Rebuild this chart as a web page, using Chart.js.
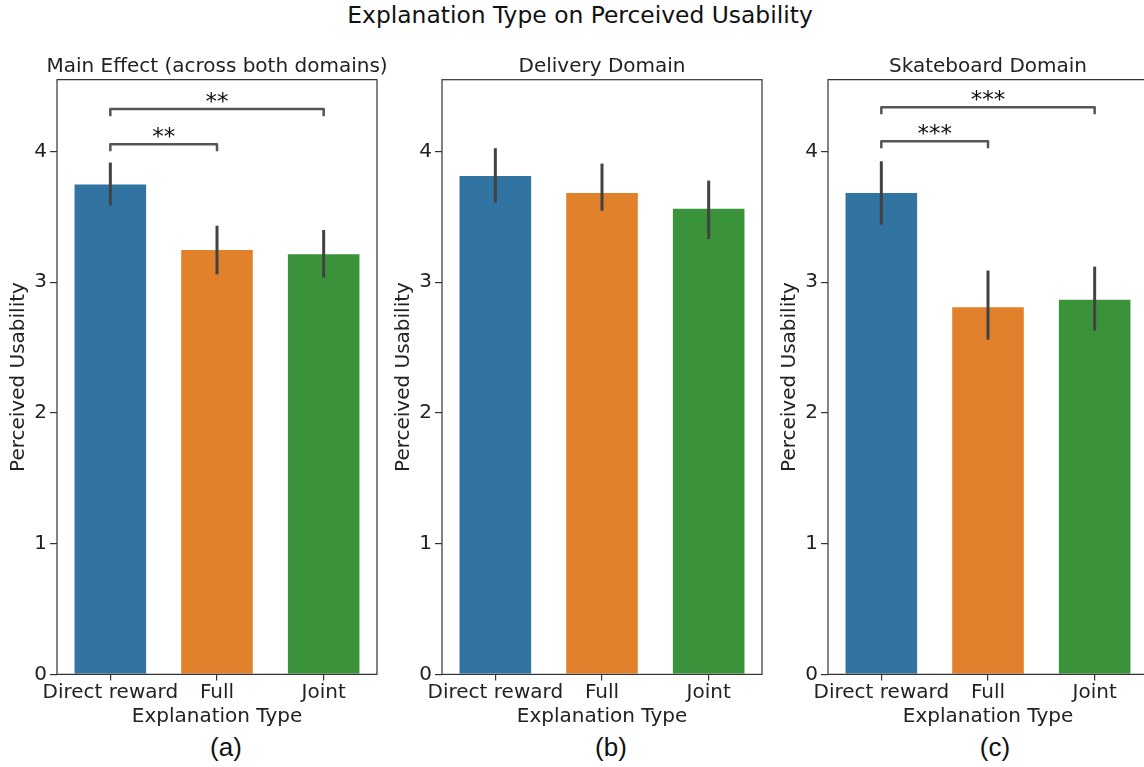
<!DOCTYPE html>
<html>
<head>
<meta charset="utf-8">
<script src="https://cdn.jsdelivr.net/npm/chart.js"></script>
<style>
body { margin: 0; background: #fff; }
#fig { position: relative; width: 1144px; height: 767px; overflow: hidden; background: #fff; font-family: "DejaVu Sans", sans-serif; }
.panel { position: absolute; top: 50px; width: 400px; height: 680px; }
#suptitle { position: absolute; left: 0; width: 1160px; top: 4px; text-align: center; font-size: 23.4px; line-height: 23px; color: #111; }
.sub { position: absolute; top: 734px; width: 100px; text-align: center; font-family: "Liberation Sans", Arial, sans-serif; font-size: 26px; line-height: 26px; color: #111; }
</style>
</head>
<body>
<div id="fig">
  <div id="suptitle">Explanation Type on Perceived Usability</div>
  <div class="panel" style="left:0px"><canvas id="mainChart" width="400" height="680"></canvas></div>
  <div class="panel" style="left:385px"><canvas id="deliveryChart" width="400" height="680"></canvas></div>
  <div class="panel" style="left:771px"><canvas id="skateChart" width="400" height="680"></canvas></div>
  <div class="sub" style="left:176px">(a)</div>
  <div class="sub" style="left:561px">(b)</div>
  <div class="sub" style="left:945px">(c)</div>
</div>
<script>
const categories = ['Direct reward', 'Full', 'Joint'];
const barColors = ['#3274a1', '#e1812c', '#3a923a'];
const yTicks = [0, 1, 2, 3, 4];

// main effect (across both domains)
const mainMeans = [3.755, 3.255, 3.222];
const mainLow = [3.587, 3.061, 3.036];
const mainHigh = [3.916, 3.433, 3.400];
const mainBrackets = [
    { from: 0, to: 1, y: 4.057, label: '**' },
    { from: 0, to: 2, y: 4.325, label: '**' }
];

// delivery domain
const deliveryMeans = [3.82, 3.69, 3.57];
const deliveryLow = [3.61, 3.547, 3.33];
const deliveryHigh = [4.026, 3.908, 3.778];

// skateboard domain
const skateMeans = [3.69, 2.816, 2.874];
const skateLow = [3.44, 2.56, 2.63];
const skateHigh = [3.926, 3.09, 3.12];
const skateBrackets = [
    { from: 0, to: 1, y: 4.08, label: '***' },
    { from: 0, to: 2, y: 4.34, label: '***' }
];

const FONT = '"DejaVu Sans", sans-serif';
const TEXT = '#222';

function extrasPlugin(title, low, high, brackets) {
    return {
        id: 'extras',
        afterDatasetsDraw(chart) {
            const ctx = chart.ctx;
            const area = chart.chartArea;
            const xs = chart.scales.x;
            const ys = chart.scales.y;
            ctx.save();

            // error bars
            ctx.strokeStyle = '#424242';
            ctx.lineWidth = 3;
            low.forEach((lo, i) => {
                const px = xs.getPixelForValue(i);
                ctx.beginPath();
                ctx.moveTo(px, ys.getPixelForValue(lo));
                ctx.lineTo(px, ys.getPixelForValue(high[i]));
                ctx.stroke();
            });

            // significance brackets
            brackets.forEach(b => {
                const x1 = xs.getPixelForValue(b.from);
                const x2 = xs.getPixelForValue(b.to);
                const yTop = ys.getPixelForValue(b.y);
                const yLeg = ys.getPixelForValue(b.y - 0.055);
                ctx.strokeStyle = '#555';
                ctx.lineWidth = 2.5;
                ctx.lineJoin = 'round';
                ctx.beginPath();
                ctx.moveTo(x1, yLeg);
                ctx.lineTo(x1, yTop);
                ctx.lineTo(x2, yTop);
                ctx.lineTo(x2, yLeg);
                ctx.stroke();
                ctx.fillStyle = '#111';
                ctx.font = '23px ' + FONT;
                ctx.textAlign = 'center';
                ctx.textBaseline = 'alphabetic';
                ctx.fillText(b.label, (x1 + x2) / 2, yTop);
            });

            // frame
            ctx.strokeStyle = '#333';
            ctx.lineWidth = 1.2;
            ctx.strokeRect(area.left, area.top, area.right - area.left, area.bottom - area.top);

            // panel title, centred over the plot area
            ctx.fillStyle = TEXT;
            ctx.font = '20px ' + FONT;
            ctx.textAlign = 'center';
            ctx.textBaseline = 'alphabetic';
            ctx.fillText(title, (area.left + area.right) / 2, area.top - 7.5);
            ctx.restore();
        }
    };
}

function initPanel(canvasId, title, means, low, high, brackets) {
    const data = {
        labels: categories,
        datasets: [{
            data: means,
            backgroundColor: barColors,
            borderColor: 'rgba(255,255,255,0.4)',
            borderWidth: 1,
            barPercentage: 0.69,
            categoryPercentage: 1
        }]
    };
    const config = {
        type: 'bar',
        data,
        options: {
            responsive: false,
            animation: false,
            layout: { padding: { left: 0, right: 23, top: 29.7, bottom: 1.6 } },
            plugins: {
                legend: { display: false },
                tooltip: { enabled: false },
                title: { display: false }
            },
            scales: {
                x: {
                    grid: { display: true, drawOnChartArea: false, drawTicks: true, tickLength: 6, offset: false, color: '#333', lineWidth: 1.2 },
                    border: { display: false },
                    ticks: { color: TEXT, font: { family: FONT, size: 20 }, padding: 0, maxRotation: 0, autoSkip: false },
                    title: { display: true, text: 'Explanation Type', color: TEXT, font: { family: FONT, size: 20 }, padding: { top: 0, bottom: 0 } }
                },
                y: {
                    min: 0,
                    max: 4.55,
                    afterBuildTicks: s => { s.ticks = yTicks.map(v => ({ value: v })); },
                    afterFit: s => { s.width = 57; },
                    grid: { display: true, drawOnChartArea: false, drawTicks: true, tickLength: 7, color: '#333', lineWidth: 1.2 },
                    border: { display: false },
                    ticks: { color: TEXT, font: { family: FONT, size: 20 }, padding: 3 },
                    title: { display: true, text: 'Perceived Usability', color: TEXT, font: { family: FONT, size: 20 }, padding: { top: 6.5, bottom: 0 } }
                }
            }
        },
        plugins: [extrasPlugin(title, low, high, brackets)]
    };
    return new Chart(document.getElementById(canvasId), config);
}

initPanel('mainChart', 'Main Effect (across both domains)', mainMeans, mainLow, mainHigh, mainBrackets);
initPanel('deliveryChart', 'Delivery Domain', deliveryMeans, deliveryLow, deliveryHigh, []);
initPanel('skateChart', 'Skateboard Domain', skateMeans, skateLow, skateHigh, skateBrackets);
</script>
</body>
</html>
